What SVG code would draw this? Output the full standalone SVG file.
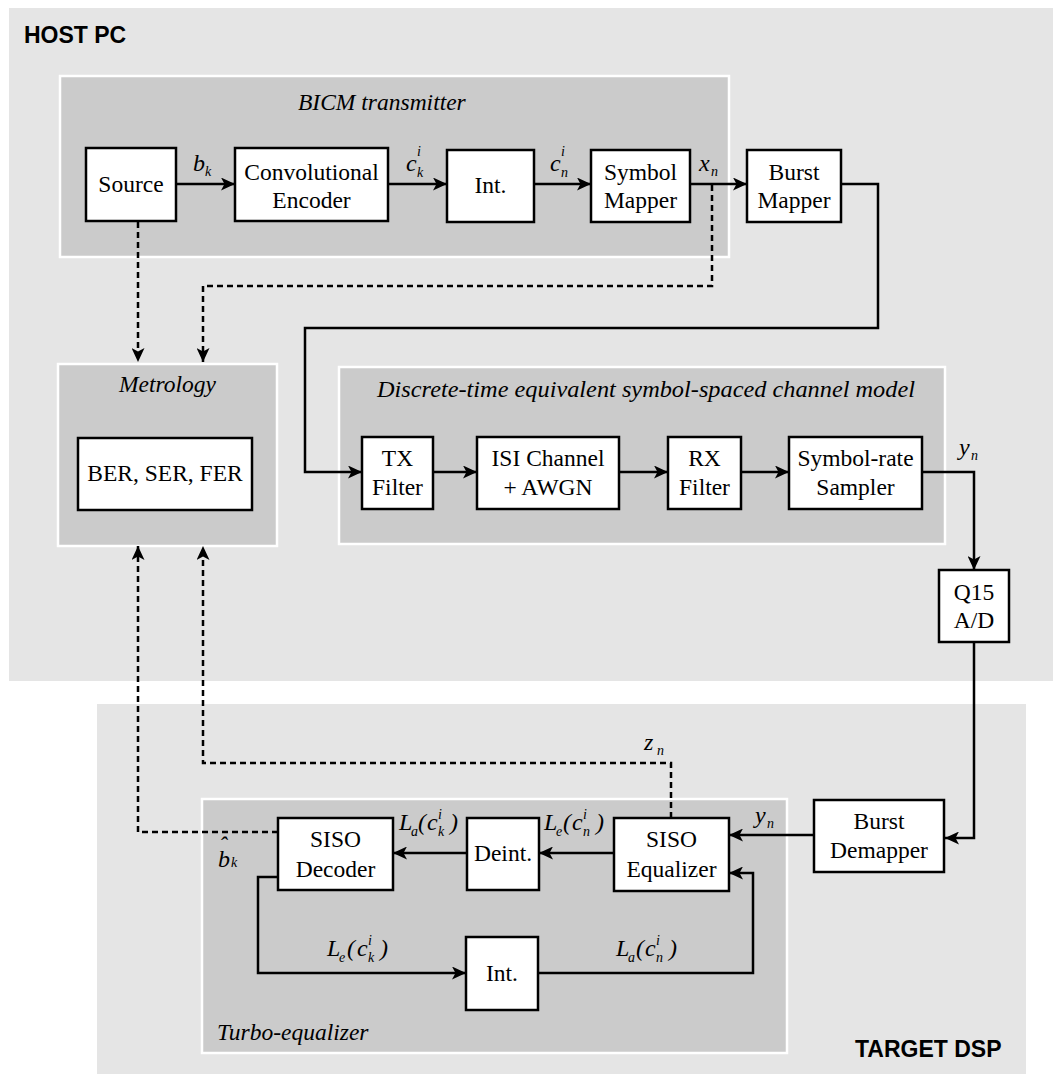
<svg xmlns="http://www.w3.org/2000/svg" width="1053" height="1075" viewBox="0 0 1053 1075">
<style>
.zone{fill:#e5e5e5;stroke:none}
.sub{fill:#cbcbcb;stroke:#ffffff;stroke-width:2.5}
.box{fill:#ffffff;stroke:#000;stroke-width:2.5}
.t{font-family:"Liberation Serif","Times New Roman",serif;font-size:23.5px;fill:#000;text-anchor:middle}
.h{font-family:"Liberation Sans",Arial,sans-serif;font-size:23px;font-weight:bold;fill:#000}
.it{font-family:"Liberation Serif","Times New Roman",serif;font-style:italic;font-size:23.5px;fill:#000}
.m{font-family:"Liberation Serif","Times New Roman",serif;font-style:italic;font-size:24px;fill:#000}
.s{font-size:14px}
.c{fill:none;stroke:#000;stroke-width:2.5;marker-end:url(#ah)}
.d{fill:none;stroke:#000;stroke-width:2.5;stroke-dasharray:6,4;marker-end:url(#ah)}
</style>
<defs>
<marker id="ah" markerUnits="userSpaceOnUse" markerWidth="15" markerHeight="13" refX="14" refY="6.5" orient="auto">
<path d="M0,0 L14,6.5 L0,13 L3.5,6.5 z" fill="#000"/>
</marker>
</defs>

<g id="host-pc">
<rect class="zone" x="9" y="8" width="1044" height="673"/>
<text class="h" x="24" y="43">HOST PC</text>
</g>
<g id="target-dsp">
<rect class="zone" x="97" y="704" width="929" height="370"/>
<text class="h" x="855" y="1057">TARGET DSP</text>
</g>

<g id="bicm-transmitter">
<rect class="sub" x="60" y="76" width="669" height="181"/>
<text class="it" x="298" y="110">BICM transmitter</text>
</g>
<g id="metrology">
<rect class="sub" x="58" y="364" width="219" height="182"/>
<text class="it" x="167.5" y="392" text-anchor="middle">Metrology</text>
</g>
<g id="channel-model">
<rect class="sub" x="339" y="367" width="606" height="177"/>
<text class="it" x="377" y="397" textLength="538" lengthAdjust="spacingAndGlyphs">Discrete-time equivalent symbol-spaced channel model</text>
</g>
<g id="turbo-equalizer">
<rect class="sub" x="202" y="799" width="585" height="254"/>
<text class="it" x="217" y="1040">Turbo-equalizer</text>
</g>

<g id="source"><rect class="box" x="86" y="148" width="90" height="73"/><text class="t" x="131" y="192">Source</text></g>
<g id="conv-encoder"><rect class="box" x="235" y="148" width="153" height="73"/><text class="t" x="311.5" y="180">Convolutional</text><text class="t" x="311.5" y="208">Encoder</text></g>
<g id="int-tx"><rect class="box" x="447" y="150" width="87" height="72"/><text class="t" x="490.5" y="193">Int.</text></g>
<g id="symbol-mapper"><rect class="box" x="591" y="150" width="99" height="72"/><text class="t" x="640.5" y="180">Symbol</text><text class="t" x="640.5" y="208">Mapper</text></g>
<g id="burst-mapper"><rect class="box" x="747" y="150" width="94" height="72"/><text class="t" x="794" y="180">Burst</text><text class="t" x="794" y="208">Mapper</text></g>
<g id="ber"><rect class="box" x="78" y="438" width="174" height="72"/><text class="t" x="165" y="481">BER, SER, FER</text></g>
<g id="tx-filter"><rect class="box" x="362" y="437" width="71" height="72"/><text class="t" x="397.5" y="466">TX</text><text class="t" x="397.5" y="495">Filter</text></g>
<g id="isi-channel"><rect class="box" x="477" y="437" width="142" height="72"/><text class="t" x="548" y="466">ISI Channel</text><text class="t" x="548" y="495">+ AWGN</text></g>
<g id="rx-filter"><rect class="box" x="668" y="437" width="73" height="72"/><text class="t" x="704.5" y="466">RX</text><text class="t" x="704.5" y="495">Filter</text></g>
<g id="sampler"><rect class="box" x="789" y="437" width="133" height="72"/><text class="t" x="855.5" y="466">Symbol-rate</text><text class="t" x="855.5" y="495">Sampler</text></g>
<g id="q15"><rect class="box" x="939" y="570" width="70" height="72"/><text class="t" x="974" y="600">Q15</text><text class="t" x="974" y="628">A/D</text></g>
<g id="burst-demapper"><rect class="box" x="814" y="800" width="130" height="72"/><text class="t" x="879" y="829">Burst</text><text class="t" x="879" y="858">Demapper</text></g>
<g id="siso-equalizer"><rect class="box" x="614" y="818" width="115" height="73"/><text class="t" x="671.5" y="847">SISO</text><text class="t" x="671.5" y="877">Equalizer</text></g>
<g id="deint"><rect class="box" x="467" y="818" width="72" height="72"/><text class="t" x="503" y="861">Deint.</text></g>
<g id="siso-decoder"><rect class="box" x="278" y="818" width="115" height="72"/><text class="t" x="335.5" y="847">SISO</text><text class="t" x="335.5" y="877">Decoder</text></g>
<g id="int-rx"><rect class="box" x="466" y="937" width="72" height="73"/><text class="t" x="502" y="981">Int.</text></g>

<g id="connectors">
<path class="c" d="M176,184 H235"/>
<path class="c" d="M388,184 H447"/>
<path class="c" d="M534,184 H591"/>
<path class="c" d="M690,184 H747"/>
<path class="c" d="M841,184 H878 V328 H305 V472 H362"/>
<path class="c" d="M433,472 H477"/>
<path class="c" d="M619,472 H668"/>
<path class="c" d="M741,472 H789"/>
<path class="c" d="M922,472 H974 V570"/>
<path class="c" d="M974,642 V838 H945"/>
<path class="c" d="M814,835 H729"/>
<path class="c" d="M614,853 H539"/>
<path class="c" d="M467,853 H393"/>
<path class="c" d="M278,877 H258 V973 H466"/>
<path class="c" d="M538,973 H753 V873 H729"/>
<path class="d" d="M138,222 V362"/>
<path class="d" d="M712,185 V286 H203 V362"/>
<path class="d" d="M278,832 H138 V546"/>
<path class="d" d="M671,818 V763 H203 V546"/>
</g>

<g id="labels">
<text class="m"><tspan x="193" y="171">b</tspan><tspan class="s" x="205" y="176">k</tspan></text>
<text class="m"><tspan x="406" y="171">c</tspan><tspan class="s" x="417" y="156">i</tspan><tspan class="s" x="417" y="177">k</tspan></text>
<text class="m"><tspan x="550" y="171">c</tspan><tspan class="s" x="561" y="156">i</tspan><tspan class="s" x="561" y="177">n</tspan></text>
<text class="m"><tspan x="699" y="171">x</tspan><tspan class="s" x="711" y="176">n</tspan></text>
<text class="m"><tspan x="959" y="455">y</tspan><tspan class="s" x="971" y="460">n</tspan></text>
<text class="m"><tspan x="644" y="750">z</tspan><tspan class="s" x="657" y="755">n</tspan></text>
<text class="m"><tspan x="755" y="823">y</tspan><tspan class="s" x="767" y="828">n</tspan></text>
<text class="m"><tspan x="218" y="867">b</tspan><tspan x="219" y="853">ˆ</tspan><tspan class="s" x="231" y="867">k</tspan></text>

<text class="m"><tspan x="399" y="830">L</tspan><tspan class="s" x="411" y="836">a</tspan><tspan x="418" y="830">(</tspan><tspan x="427" y="830">c</tspan><tspan class="s" x="438" y="819">i</tspan><tspan class="s" x="438" y="836">k</tspan><tspan x="450" y="830">)</tspan></text>
<text class="m"><tspan x="544" y="830">L</tspan><tspan class="s" x="556" y="836">e</tspan><tspan x="563" y="830">(</tspan><tspan x="572" y="830">c</tspan><tspan class="s" x="583" y="819">i</tspan><tspan class="s" x="583" y="836">n</tspan><tspan x="596" y="830">)</tspan></text>
<text class="m"><tspan x="327" y="956">L</tspan><tspan class="s" x="339" y="962">e</tspan><tspan x="347" y="956">(</tspan><tspan x="357" y="956">c</tspan><tspan class="s" x="368" y="945">i</tspan><tspan class="s" x="368" y="962">k</tspan><tspan x="380" y="956">)</tspan></text>
<text class="m"><tspan x="616" y="956">L</tspan><tspan class="s" x="628" y="962">a</tspan><tspan x="636" y="956">(</tspan><tspan x="645" y="956">c</tspan><tspan class="s" x="656" y="945">i</tspan><tspan class="s" x="656" y="962">n</tspan><tspan x="669" y="956">)</tspan></text>
</g>
</svg>
